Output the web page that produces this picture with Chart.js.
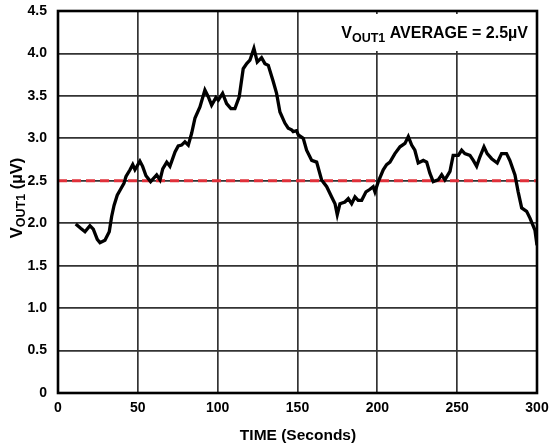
<!DOCTYPE html>
<html>
<head>
<meta charset="utf-8">
<script src="https://cdn.jsdelivr.net/npm/chart.js@4.4.1/dist/chart.umd.min.js"></script>
<style>
  html, body { margin: 0; padding: 0; background: #fff; }
  #wrap { width: 550px; height: 445px; }
</style>
</head>
<body>
<div id="wrap"><canvas id="c" width="550" height="445"></canvas></div>
<script>
// ---- data ----
const timeSec = [11.1,14.2,16.9,20.0,22.1,24.6,26.3,29.4,32.1,33.6,35.1,37.1,39.2,41.3,42.6,45.1,46.8,48.2,51.3,53.0,55.1,58.0,61.8,63.9,65.6,68.1,70.1,73.3,75.3,77.4,79.5,81.6,83.7,85.8,88.9,92.0,94.1,96.2,98.9,100.4,103.1,105.6,108.3,110.8,113.5,116.0,118.2,120.2,122.7,124.8,127.5,129.6,131.7,134.8,136.9,139.0,142.1,144.2,146.3,147.3,149.4,150.5,153.6,155.7,158.9,162.0,165.1,168.3,171.4,173.5,174.9,176.6,179.7,181.8,183.9,186.0,188.0,190.2,192.9,195.4,197.4,198.5,200.6,203.7,205.8,207.9,211.0,214.2,217.3,219.4,221.5,223.5,225.6,228.8,230.9,232.9,235.0,238.1,240.3,242.3,245.5,247.5,250.7,252.8,254.8,258.0,260.1,262.2,264.2,266.8,268.8,271.6,275.1,277.8,280.9,283.0,286.2,288.2,290.4,293.5,295.6,298.7,300.0];
const voutUV = [1.99,1.94,1.90,1.97,1.93,1.81,1.77,1.80,1.90,2.08,2.21,2.33,2.40,2.47,2.55,2.63,2.69,2.63,2.73,2.67,2.56,2.49,2.57,2.51,2.64,2.72,2.67,2.84,2.91,2.92,2.96,2.92,3.06,3.24,3.37,3.57,3.49,3.39,3.48,3.45,3.53,3.41,3.35,3.35,3.49,3.82,3.88,3.92,4.06,3.90,3.95,3.88,3.86,3.67,3.53,3.31,3.18,3.12,3.10,3.08,3.09,3.04,3.00,2.86,2.74,2.72,2.51,2.43,2.31,2.23,2.10,2.23,2.25,2.29,2.23,2.31,2.27,2.27,2.37,2.40,2.43,2.37,2.49,2.63,2.69,2.72,2.82,2.90,2.94,3.02,2.92,2.86,2.71,2.74,2.72,2.59,2.49,2.51,2.57,2.51,2.61,2.80,2.80,2.86,2.82,2.80,2.74,2.67,2.78,2.90,2.82,2.76,2.71,2.82,2.82,2.74,2.57,2.37,2.18,2.14,2.06,1.92,1.74];
const averageLevel = 2.5;
const xTicks = [0, 50, 100, 150, 200, 250, 300];
const yTicks = [0, 0.5, 1.0, 1.5, 2.0, 2.5, 3.0, 3.5, 4.0, 4.5];
const xTitle = 'TIME (Seconds)';
const yTitleParts = ['V', 'OUT1', ' (µV)'];
const noteParts = ['V', 'OUT1', ' AVERAGE = 2.5µV'];

const FONT = '"Liberation Sans", Arial, Helvetica, sans-serif';

const curve = timeSec.map((t, i) => ({ x: t, y: voutUV[i] }));
const avgLine = [{ x: xTicks[0], y: averageLevel }, { x: xTicks[xTicks.length - 1], y: averageLevel }];

function drawSubText(ctx, parts, x, y, align, bigPx, smallPx, drop) {
  const big = 'bold ' + bigPx + 'px ' + FONT;
  const small = 'bold ' + smallPx + 'px ' + FONT;
  ctx.font = big; const w1 = ctx.measureText(parts[0]).width;
  ctx.font = small; const w2 = ctx.measureText(parts[1]).width;
  ctx.font = big; const w3 = ctx.measureText(parts[2]).width;
  const total = w1 + w2 + w3;
  const sx = align === 'center' ? x - total / 2 : (align === 'right' ? x - total : x);
  ctx.textAlign = 'left';
  ctx.textBaseline = 'alphabetic';
  ctx.fillStyle = '#000';
  ctx.font = big; ctx.fillText(parts[0], sx, y);
  ctx.font = small; ctx.fillText(parts[1], sx + w1, y + drop);
  ctx.font = big; ctx.fillText(parts[2], sx + w1 + w2, y);
  return total;
}

const decor = {
  id: 'decor',
  beforeDatasetsDraw(chart) {
    const { ctx, chartArea: a } = chart;
    ctx.save();
    ctx.fillStyle = '#fff';
    ctx.fillRect(333, 14, a.right - 333, 37);
    drawSubText(ctx, noteParts, a.right - 9, 38, 'right', 16, 12.5, 4);
    ctx.restore();
  },
  afterDatasetsDraw(chart) {
    const { ctx, chartArea: a } = chart;
    ctx.save();
    ctx.strokeStyle = '#000';
    ctx.lineWidth = 2.6;
    ctx.strokeRect(a.left, a.top, a.right - a.left, a.bottom - a.top);
    ctx.restore();
  },
  afterDraw(chart) {
    const { ctx, chartArea: a } = chart;
    ctx.save();
    ctx.fillStyle = '#000';
    ctx.font = 'bold 15.5px ' + FONT;
    ctx.textAlign = 'center';
    ctx.textBaseline = 'alphabetic';
    ctx.fillText(xTitle, 298, 440);
    ctx.translate(22, 198);
    ctx.rotate(-Math.PI / 2);
    drawSubText(ctx, yTitleParts, 0, 0, 'center', 16.5, 12.5, 3);
    ctx.restore();
  }
};

new Chart(document.getElementById('c'), {
  type: 'scatter',
  data: {
    datasets: [
      { data: curve, showLine: true, borderColor: '#000', borderWidth: 3.3, pointRadius: 0, tension: 0, order: 0 },
      { data: avgLine, showLine: true, borderColor: '#e0303a', borderWidth: 3, borderDash: [9, 5], pointRadius: 0, order: 1 }
    ]
  },
  options: {
    responsive: false,
    animation: false,
    events: [],
    layout: { padding: { left: 0, right: 13, top: 11, bottom: 0 } },
    plugins: { legend: { display: false }, tooltip: { enabled: false } },
    scales: {
      x: {
        type: 'linear', min: 0, max: 300,
        afterBuildTicks: s => { s.ticks = xTicks.map(v => ({ value: v })); },
        afterFit: s => { s.height = 52; s.paddingLeft = 0; s.paddingRight = 0; },
        grid: { color: '#333', lineWidth: 1.7, drawTicks: false },
        border: { display: false },
        ticks: { color: '#000', font: { family: FONT, size: 14, weight: 'bold' }, padding: 7, maxRotation: 0, autoSkip: false }
      },
      y: {
        type: 'linear', min: 0, max: 4.5,
        afterBuildTicks: s => { s.ticks = yTicks.map(v => ({ value: v })); },
        afterFit: s => { s.width = 58; s.paddingTop = 0; s.paddingBottom = 0; },
        grid: { color: '#333', lineWidth: 1.7, drawTicks: false },
        border: { display: false },
        ticks: { color: '#000', font: { family: FONT, size: 14, weight: 'bold' }, padding: 11,
          callback: v => v === 0 ? '0' : v.toFixed(1) }
      }
    }
  },
  plugins: [decor]
});
</script>
</body>
</html>
